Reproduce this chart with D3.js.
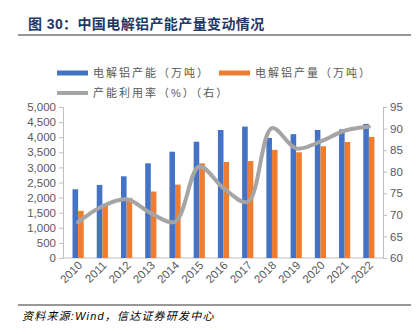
<!DOCTYPE html>
<html>
<head>
<meta charset="utf-8">
<script src="https://cdn.jsdelivr.net/npm/d3@7"></script>
<style>
  body { margin: 0; background: #fff; }
  text { font-family: "Liberation Sans", Arial, "Noto Sans CJK SC", sans-serif; }
</style>
</head>
<body>
<div id="chart"></div>
<script>
// data
const years = ["2010","2011","2012","2013","2014","2015","2016","2017","2018","2019","2020","2021","2022"];
const capacity = [2275, 2420, 2705, 3135, 3520, 3850, 4240, 4350, 3975, 4100, 4240, 4260, 4440];
const output = [1560, 1780, 1990, 2200, 2430, 3135, 3180, 3210, 3580, 3500, 3700, 3840, 4010];
const utilRate = [68.3, 72.0, 73.6, 70.4, 68.4, 81.2, 76.2, 73.0, 90.1, 85.4, 87.0, 89.5, 90.4];
const leftTicks = [0, 500, 1000, 1500, 2000, 2500, 3000, 3500, 4000, 4500, 5000];
const rightTicks = [60, 65, 70, 75, 80, 85, 90, 95];

const W = 419, H = 334;
const svg = d3.select("#chart").append("svg")
  .attr("width", W).attr("height", H);

// title + rules
svg.append("text")
  .attr("x", 28).attr("y", 29)
  .style("font-size", "14px").style("font-weight", "bold")
  .style("letter-spacing", "0.4px")
  .attr("fill", "#1F3864")
  .text("图 30：中国电解铝产能产量变动情况");
svg.append("line").attr("x1", 18).attr("x2", 411).attr("y1", 35).attr("y2", 35)
  .attr("stroke", "#333").attr("stroke-width", 1);
svg.append("line").attr("x1", 18).attr("x2", 411).attr("y1", 305).attr("y2", 305)
  .attr("stroke", "#333").attr("stroke-width", 1);
svg.append("text")
  .attr("x", 22).attr("y", 320)
  .style("font-size", "11px").style("font-style", "italic")
  .style("letter-spacing", "1.2px")
  .attr("fill", "#000")
  .text("资料来源:Wind，信达证券研发中心");

// scales
const x = d3.scaleBand().domain(years).range([66, 381]);
const yL = d3.scaleLinear().domain([0, 5000]).range([258, 107]);
const yR = d3.scaleLinear().domain([60, 95]).range([258, 107]);
const barW = 5.6;

// axes
const axL = svg.append("g").attr("transform", "translate(63,0)")
  .call(d3.axisLeft(yL).tickValues(leftTicks).tickSize(4).tickFormat(d3.format(",")));
const axR = svg.append("g").attr("transform", "translate(383,0)")
  .call(d3.axisRight(yR).tickValues(rightTicks).tickSize(4));
[axL, axR].forEach(a => {
  a.select(".domain").attr("stroke", "#BFBFBF");
  a.selectAll(".tick line").attr("stroke", "#BFBFBF");
  a.selectAll(".tick text").attr("fill", "#595959").style("font-size", "11.5px")
    .style("font-family", "Liberation Sans, Arial, sans-serif");
});
axL.selectAll(".tick text").attr("x", -7);
axR.selectAll(".tick text").attr("x", 7);

svg.append("line").attr("x1", 63).attr("x2", 383).attr("y1", 258).attr("y2", 258)
  .attr("stroke", "#BFBFBF");

// bars
svg.selectAll(".cap").data(years).enter().append("rect")
  .attr("x", d => x(d) + x.bandwidth() / 2 - barW)
  .attr("y", (d, i) => yL(capacity[i]))
  .attr("width", barW)
  .attr("height", (d, i) => 258 - yL(capacity[i]))
  .attr("fill", "#4472C4");
svg.selectAll(".out").data(years).enter().append("rect")
  .attr("x", d => x(d) + x.bandwidth() / 2)
  .attr("y", (d, i) => yL(output[i]))
  .attr("width", barW)
  .attr("height", (d, i) => 258 - yL(output[i]))
  .attr("fill", "#ED7D31");

// utilisation line
svg.append("path")
  .datum(utilRate)
  .attr("fill", "none")
  .attr("stroke", "#A5A5A5")
  .attr("stroke-width", 4)
  .attr("stroke-linecap", "round")
  .attr("d", d3.line()
    .x((d, i) => x(years[i]) + x.bandwidth() / 2)
    .y(d => yR(d))
    .curve(d3.curveCatmullRom.alpha(0.5)));

// x labels
svg.selectAll(".xl").data(years).enter().append("text")
  .attr("transform", d => `translate(${x(d) + x.bandwidth() / 2 + 5},${266}) rotate(-45)`)
  .attr("text-anchor", "end")
  .attr("fill", "#595959")
  .style("font-size", "11.5px")
  .text(d => d);

// legend
const legend = [
  {label: "电解铝产能（万吨）", color: "#4472C4", x: 57, y: 73},
  {label: "电解铝产量（万吨）", color: "#ED7D31", x: 219, y: 73},
  {label: "产能利用率（%）（右）", color: "#A5A5A5", x: 57, y: 93}
];
legend.forEach(l => {
  svg.append("line").attr("x1", l.x).attr("x2", l.x + 31).attr("y1", l.y).attr("y2", l.y)
    .attr("stroke", l.color).attr("stroke-width", l.color === "#A5A5A5" ? 4 : 5);
  svg.append("text").attr("x", l.x + 36).attr("y", l.y + 4)
    .attr("fill", "#595959").style("font-size", "11px")
    .style("letter-spacing", "2px")
    .text(l.label);
});
</script>
</body>
</html>
